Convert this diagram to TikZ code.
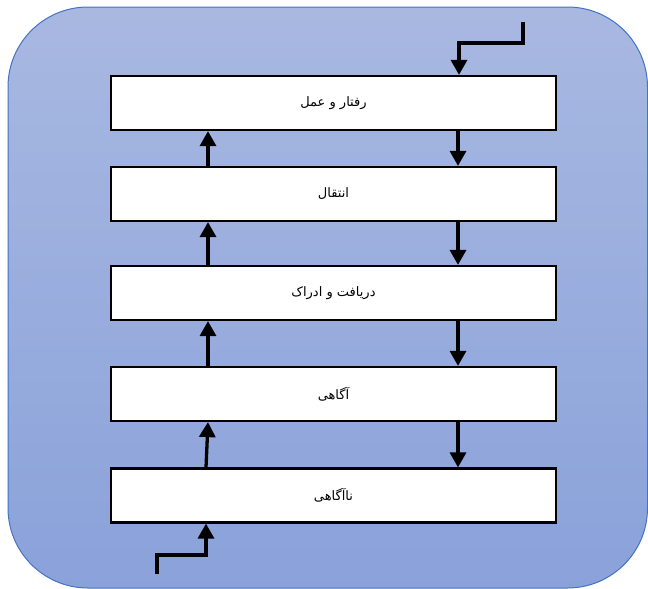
\documentclass[tikz,border=0pt]{standalone}
\usepackage{fontspec}
\newfontfamily\arabicfont[Script=Arabic]{DejaVu Sans}
\TeXXeTstate=1
\usetikzlibrary{arrows.meta}
\definecolor{bgtop}{HTML}{A8B8E1}
\definecolor{bgbot}{HTML}{8AA2DA}
\definecolor{bgedge}{HTML}{4472C4}
\tikzset{
  stage/.style={draw=black, line width=2.2pt, fill=white, minimum width=445pt,
    minimum height=54pt, inner sep=0pt,
    font=\arabicfont\fontsize{13}{15}\selectfont},
  flow/.style={line width=3.3pt, -{Triangle[length=15pt,width=16pt]}},
}
\newcommand{\rtl}[1]{\beginR #1\endR}
\begin{document}
\begin{tikzpicture}[x=1pt,y=-1pt]
  \useasboundingbox (0,0) rectangle (648,589);
  % rounded backdrop
  \shade[top color=bgtop, bottom color=bgbot, draw=bgedge, line width=1pt,
    rounded corners=80pt] (8,7) rectangle (647.5,588);
  % stages
  \node[stage] (b1) at (333.5,103)   {\rtl{رفتار و عمل}};
  \node[stage] (b2) at (333.5,194)   {\rtl{انتقال}};
  \node[stage] (b3) at (333.5,293)   {\rtl{دریافت و ادراک}};
  \node[stage] (b4) at (333.5,394)   {\rtl{آگاهی}};
  \node[stage] (b5) at (333.5,495.5) {\rtl{ناآگاهی}};
  % columns of the two arrow chains
  \coordinate (xl) at (208,0);
  \coordinate (xr) at (458,0);
  % upward chain
  \draw[flow] ([xshift=-2pt]b5.north -| xl) -- (b4.south -| xl);
  \draw[flow] (b4.north -| xl) -- (b3.south -| xl);
  \draw[flow] (b3.north -| xl) -- (b2.south -| xl);
  \draw[flow] (b2.north -| xl) -- (b1.south -| xl);
  % downward chain
  \draw[flow] (b1.south -| xr) -- (b2.north -| xr);
  \draw[flow] (b2.south -| xr) -- (b3.north -| xr);
  \draw[flow] (b3.south -| xr) -- (b4.north -| xr);
  \draw[flow] (b4.south -| xr) -- (b5.north -| xr);
  % entry lines
  \coordinate (inTop) at (523,22);
  \coordinate (inBot) at (157,574);
  \draw[flow] (inTop) -- ++(0,21) -| ([xshift=1pt]b1.north -| xr);
  \draw[flow] (inBot) -- ++(0,-19) -| ([xshift=-2pt]b5.south -| xl);
\end{tikzpicture}
\end{document}
